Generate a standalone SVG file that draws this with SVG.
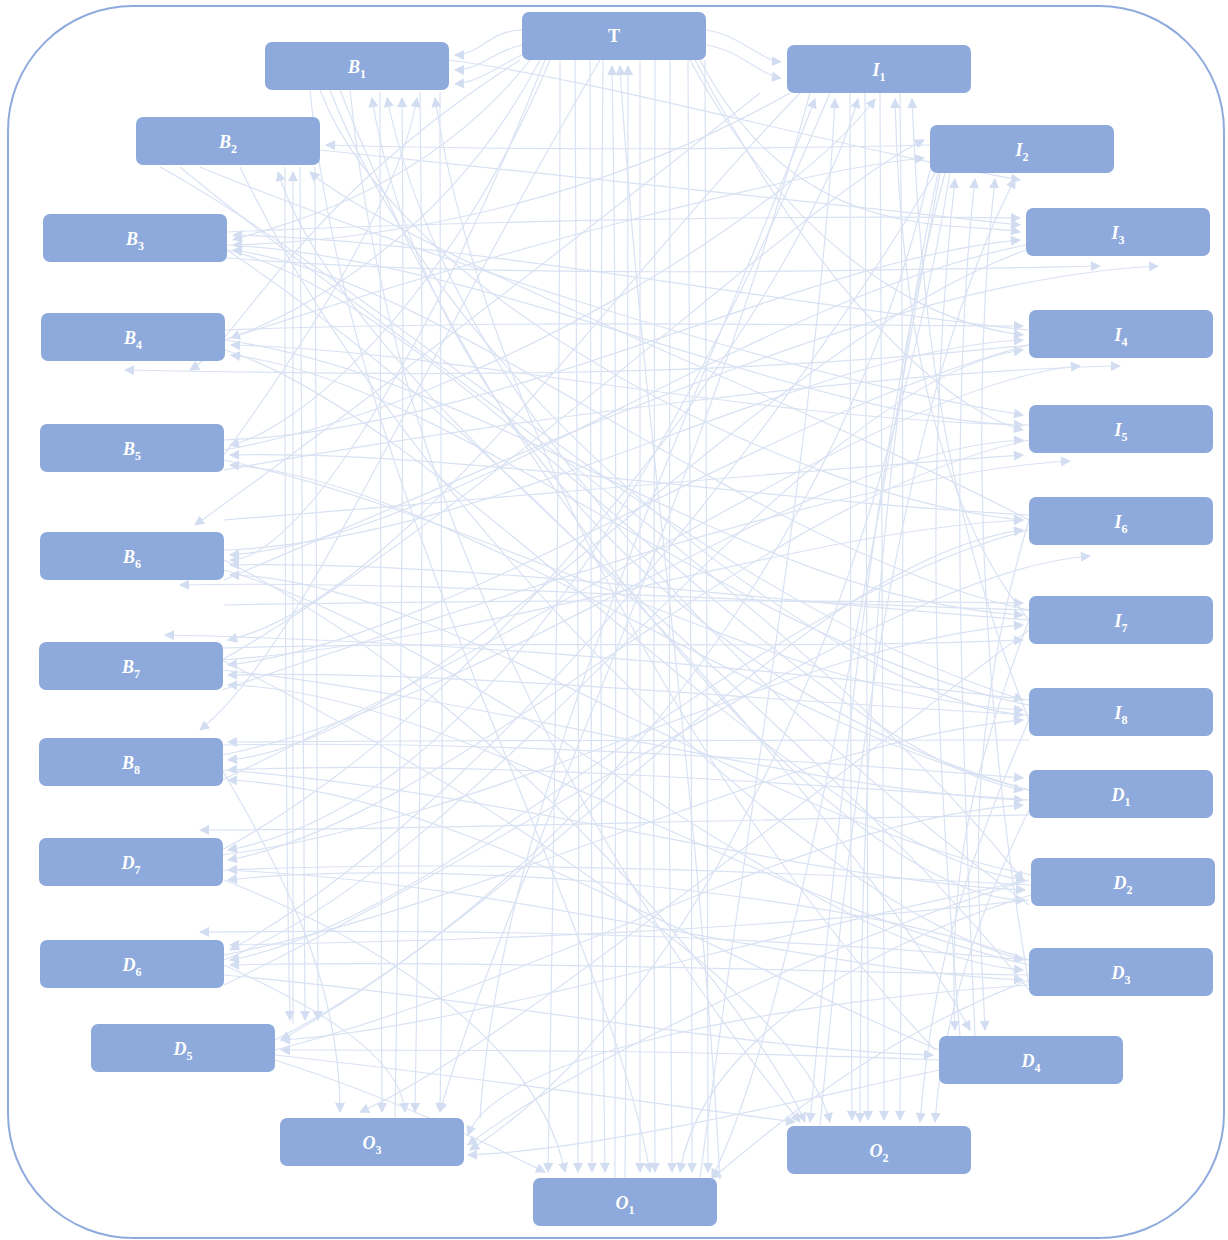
<svg xmlns="http://www.w3.org/2000/svg" width="1228" height="1240" viewBox="0 0 1228 1240">
<style>
.frame{fill:#fff;stroke:#8faadc;stroke-width:2}
.n rect{fill:#8eaadc}
.n text{fill:#fff;font-family:"Liberation Serif","DejaVu Serif",serif;font-size:18px;font-weight:bold;font-style:italic;text-anchor:middle}
.n text tspan.s{font-size:12px;font-style:normal}
.e{fill:none;stroke:#d9e2f3;stroke-width:1.2;marker-end:url(#ah)}
</style>
<defs>
<marker id="ah" viewBox="0 0 10 10" refX="9" refY="5" markerUnits="userSpaceOnUse" markerWidth="11" markerHeight="10" orient="auto">
<path d="M0,0 L10,5 L0,10 z" fill="#d2ddf1"/>
</marker>
</defs>
<rect class="frame" x="8" y="6" width="1216" height="1232" rx="125"/>
<g id="connectors">
<path class="e" d="M560,60 C560,400 555,800 548,1172"/>
<path class="e" d="M575,60 C578,400 580,800 578,1172"/>
<path class="e" d="M590,60 C590,400 592,800 592,1172"/>
<path class="e" d="M603,60 C600,400 600,800 605,1172"/>
<path class="e" d="M640,60 C640,400 640,800 640,1172"/>
<path class="e" d="M655,60 C655,400 652,800 655,1172"/>
<path class="e" d="M670,60 C668,400 668,800 672,1172"/>
<path class="e" d="M688,60 C690,400 692,800 692,1172"/>
<path class="e" d="M705,60 C705,400 708,800 708,1172"/>
<path class="e" d="M615,1178 C615,800 618,400 612,66"/>
<path class="e" d="M625,1178 C628,800 630,400 628,66"/>
<path class="e" d="M720,1180 C700,800 640,400 620,66"/>
<path class="e" d="M530,60 C420,200 260,230 233,240"/>
<path class="e" d="M540,60 C440,250 280,320 231,338"/>
<path class="e" d="M550,60 C450,300 300,430 230,445"/>
<path class="e" d="M700,60 C800,250 960,220 1020,232"/>
<path class="e" d="M690,60 C820,300 980,330 1023,335"/>
<path class="e" d="M695,60 C850,350 980,420 1023,430"/>
<path class="e" d="M545,60 C430,350 300,560 230,560"/>
<path class="e" d="M706,30 C740,35 760,60 781,62"/>
<path class="e" d="M706,45 C740,50 760,75 781,78"/>
<path class="e" d="M522,30 C490,30 480,55 455,55"/>
<path class="e" d="M522,45 C495,50 480,70 455,70"/>
<path class="e" d="M522,55 C500,65 480,82 455,84"/>
<path class="e" d="M227,245 C500,260 800,420 1023,425"/>
<path class="e" d="M227,250 C450,300 800,750 1023,790"/>
<path class="e" d="M225,340 C500,380 750,600 1023,615"/>
<path class="e" d="M225,350 C450,420 800,850 1025,880"/>
<path class="e" d="M224,440 C500,430 800,260 1020,240"/>
<path class="e" d="M224,460 C500,520 800,700 1023,710"/>
<path class="e" d="M224,550 C500,540 800,350 1023,340"/>
<path class="e" d="M224,570 C500,650 800,950 1023,970"/>
<path class="e" d="M222,660 C500,640 800,530 1023,520"/>
<path class="e" d="M222,670 C500,700 800,790 1023,800"/>
<path class="e" d="M222,755 C500,700 800,450 1023,440"/>
<path class="e" d="M222,770 C500,790 800,880 1025,890"/>
<path class="e" d="M222,855 C500,820 800,640 1023,625"/>
<path class="e" d="M222,870 C500,880 800,970 1023,980"/>
<path class="e" d="M224,955 C500,900 800,740 1023,720"/>
<path class="e" d="M224,960 C500,850 800,380 1023,350"/>
<path class="e" d="M275,1040 C550,900 800,560 1023,530"/>
<path class="e" d="M275,1050 C550,980 800,820 1023,805"/>
<path class="e" d="M224,605 C500,600 800,600 1023,603"/>
<path class="e" d="M222,648 C500,640 800,650 1023,640"/>
<path class="e" d="M222,745 C500,740 800,760 1023,778"/>
<path class="e" d="M227,232 C500,220 800,215 1020,218"/>
<path class="e" d="M225,330 C500,320 800,325 1023,326"/>
<path class="e" d="M224,520 C480,500 800,470 1023,455"/>
<path class="e" d="M1026,245 C750,300 450,540 230,555"/>
<path class="e" d="M1026,250 C750,350 450,740 228,760"/>
<path class="e" d="M1029,330 C750,300 450,240 233,235"/>
<path class="e" d="M1029,345 C750,420 450,640 228,665"/>
<path class="e" d="M1029,425 C750,420 450,350 231,345"/>
<path class="e" d="M1029,440 C750,500 450,820 228,860"/>
<path class="e" d="M1029,515 C750,500 450,450 230,455"/>
<path class="e" d="M1029,530 C750,600 450,920 230,960"/>
<path class="e" d="M1029,610 C750,550 450,280 233,250"/>
<path class="e" d="M1029,620 C750,600 450,560 230,565"/>
<path class="e" d="M1029,705 C750,650 450,380 231,355"/>
<path class="e" d="M1029,715 C750,700 450,670 228,675"/>
<path class="e" d="M1029,790 C750,720 450,480 230,465"/>
<path class="e" d="M1029,800 C750,780 450,760 228,770"/>
<path class="e" d="M1031,875 C750,820 450,580 230,575"/>
<path class="e" d="M1031,885 C750,870 450,860 228,870"/>
<path class="e" d="M1029,965 C750,900 450,690 228,685"/>
<path class="e" d="M1029,975 C750,970 450,960 230,965"/>
<path class="e" d="M939,1050 C700,950 450,790 228,780"/>
<path class="e" d="M939,1060 C700,1050 450,1050 281,1050"/>
<path class="e" d="M1029,740 C800,740 500,740 228,742"/>
<path class="e" d="M1029,900 C760,930 500,940 230,945"/>
<path class="e" d="M1029,960 C800,880 400,860 228,880"/>
<path class="e" d="M320,90 C400,300 800,500 1023,520"/>
<path class="e" d="M330,90 C450,400 850,700 1023,715"/>
<path class="e" d="M340,90 C500,500 850,900 1025,900"/>
<path class="e" d="M310,90 C350,500 600,900 650,1172"/>
<path class="e" d="M350,90 C400,600 700,1000 800,1122"/>
<path class="e" d="M380,92 C380,500 380,800 382,1112"/>
<path class="e" d="M420,92 C425,500 420,800 415,1112"/>
<path class="e" d="M440,92 C440,500 445,800 440,1112"/>
<path class="e" d="M449,60 C600,80 850,150 1020,180"/>
<path class="e" d="M1029,790 C700,700 420,400 372,98"/>
<path class="e" d="M1029,905 C750,700 450,400 387,98"/>
<path class="e" d="M395,1118 C400,800 405,400 402,98"/>
<path class="e" d="M224,455 C300,350 400,200 417,98"/>
<path class="e" d="M935,1050 C700,800 480,400 435,98"/>
<path class="e" d="M285,167 C285,500 285,800 290,1020"/>
<path class="e" d="M300,167 C302,500 305,800 305,1020"/>
<path class="e" d="M315,167 C318,500 315,800 318,1020"/>
<path class="e" d="M320,150 C600,180 800,200 1020,225"/>
<path class="e" d="M200,167 C400,250 800,380 1023,415"/>
<path class="e" d="M240,167 C400,500 800,900 1023,960"/>
<path class="e" d="M160,167 C400,300 700,600 1023,700"/>
<path class="e" d="M180,167 C400,350 800,600 1023,880"/>
<path class="e" d="M1029,990 C800,700 350,400 278,172"/>
<path class="e" d="M293,1024 C295,700 293,400 293,172"/>
<path class="e" d="M1029,520 C800,400 400,250 310,172"/>
<path class="e" d="M930,145 C700,150 500,150 326,145"/>
<path class="e" d="M850,93 C848,500 850,800 852,1120"/>
<path class="e" d="M865,93 C865,500 868,800 868,1120"/>
<path class="e" d="M880,93 C882,500 884,800 884,1120"/>
<path class="e" d="M900,93 C905,500 902,800 900,1120"/>
<path class="e" d="M790,93 C600,200 400,240 233,245"/>
<path class="e" d="M830,93 C700,400 500,800 228,850"/>
<path class="e" d="M810,93 C700,500 500,900 440,1112"/>
<path class="e" d="M800,93 C600,300 400,600 228,640"/>
<path class="e" d="M480,1118 C500,800 700,400 815,99"/>
<path class="e" d="M700,1178 C750,800 820,400 835,99"/>
<path class="e" d="M222,850 C500,700 800,300 858,99"/>
<path class="e" d="M224,450 C500,400 800,200 875,99"/>
<path class="e" d="M1029,620 C930,500 900,300 895,99"/>
<path class="e" d="M1029,720 C940,500 920,300 912,99"/>
<path class="e" d="M940,173 C880,500 800,1000 712,1178"/>
<path class="e" d="M950,173 C880,600 700,1000 470,1150"/>
<path class="e" d="M935,173 C800,400 500,800 230,950"/>
<path class="e" d="M945,173 C870,450 830,900 810,1122"/>
<path class="e" d="M930,170 C880,400 700,800 281,1040"/>
<path class="e" d="M938,173 C890,400 860,700 860,1122"/>
<path class="e" d="M960,1036 C940,800 920,500 955,179"/>
<path class="e" d="M975,1036 C960,700 950,400 975,179"/>
<path class="e" d="M1029,985 C980,700 970,400 995,179"/>
<path class="e" d="M820,1126 C850,800 900,400 1015,179"/>
<path class="e" d="M222,660 C500,500 800,200 924,140"/>
<path class="e" d="M224,340 C500,250 800,170 924,158"/>
<path class="e" d="M227,258 C500,280 900,270 1100,266"/>
<path class="e" d="M224,580 C600,420 900,280 1158,266"/>
<path class="e" d="M224,470 C500,420 900,370 1120,366"/>
<path class="e" d="M222,780 C600,600 900,380 1080,366"/>
<path class="e" d="M222,690 C600,560 900,470 1070,461"/>
<path class="e" d="M224,985 C600,800 900,570 1090,556"/>
<path class="e" d="M1029,985 C800,1000 500,1050 468,1135"/>
<path class="e" d="M939,1070 C800,1100 600,1150 468,1155"/>
<path class="e" d="M1029,880 C800,950 550,1080 468,1145"/>
<path class="e" d="M222,770 C300,900 340,1000 340,1112"/>
<path class="e" d="M224,965 C300,1000 400,1050 405,1112"/>
<path class="e" d="M1029,630 C800,800 500,1050 360,1112"/>
<path class="e" d="M224,560 C500,700 750,1000 805,1122"/>
<path class="e" d="M222,660 C500,800 800,1000 830,1122"/>
<path class="e" d="M1029,720 C950,900 930,1000 920,1122"/>
<path class="e" d="M1029,810 C960,950 940,1050 935,1122"/>
<path class="e" d="M275,1055 C500,1080 700,1110 795,1122"/>
<path class="e" d="M275,1060 C400,1100 500,1150 545,1172"/>
<path class="e" d="M1029,980 C850,1050 750,1150 712,1178"/>
<path class="e" d="M224,880 C400,950 540,1050 565,1172"/>
<path class="e" d="M1031,895 C850,950 700,1050 680,1172"/>
<path class="e" d="M1029,880 C700,950 450,1030 281,1040"/>
<path class="e" d="M224,975 C500,1000 750,1050 933,1055"/>
<path class="e" d="M1029,620 C960,800 950,900 955,1030"/>
<path class="e" d="M1029,520 C960,750 980,900 985,1030"/>
<path class="e" d="M227,250 C600,500 900,900 970,1030"/>
<path class="e" d="M1029,345 C700,380 400,375 125,370"/>
<path class="e" d="M520,60 C300,200 240,340 190,370"/>
<path class="e" d="M1029,610 C700,600 400,580 180,585"/>
<path class="e" d="M1029,700 C700,660 400,640 165,635"/>
<path class="e" d="M600,60 C400,400 300,650 200,730"/>
<path class="e" d="M1029,815 C700,820 400,830 200,830"/>
<path class="e" d="M1029,960 C700,930 400,930 200,932"/>
<path class="e" d="M760,93 C500,300 300,450 195,525"/>
</g>
<g id="node-T" class="n"><rect x="522" y="12" width="184" height="48" rx="7"/><text x="614" y="42" style="font-style:normal">T</text></g>
<g id="node-B1" class="n"><rect x="265" y="42" width="184" height="48" rx="7"/><text x="357" y="73">B<tspan class="s" dy="5">1</tspan></text></g>
<g id="node-I1" class="n"><rect x="787" y="45" width="184" height="48" rx="7"/><text x="879" y="76">I<tspan class="s" dy="5">1</tspan></text></g>
<g id="node-B2" class="n"><rect x="136" y="117" width="184" height="48" rx="7"/><text x="228" y="148">B<tspan class="s" dy="5">2</tspan></text></g>
<g id="node-I2" class="n"><rect x="930" y="125" width="184" height="48" rx="7"/><text x="1022" y="156">I<tspan class="s" dy="5">2</tspan></text></g>
<g id="node-B3" class="n"><rect x="43" y="214" width="184" height="48" rx="7"/><text x="135" y="245">B<tspan class="s" dy="5">3</tspan></text></g>
<g id="node-I3" class="n"><rect x="1026" y="208" width="184" height="48" rx="7"/><text x="1118" y="239">I<tspan class="s" dy="5">3</tspan></text></g>
<g id="node-B4" class="n"><rect x="41" y="313" width="184" height="48" rx="7"/><text x="133" y="344">B<tspan class="s" dy="5">4</tspan></text></g>
<g id="node-I4" class="n"><rect x="1029" y="310" width="184" height="48" rx="7"/><text x="1121" y="341">I<tspan class="s" dy="5">4</tspan></text></g>
<g id="node-B5" class="n"><rect x="40" y="424" width="184" height="48" rx="7"/><text x="132" y="455">B<tspan class="s" dy="5">5</tspan></text></g>
<g id="node-I5" class="n"><rect x="1029" y="405" width="184" height="48" rx="7"/><text x="1121" y="436">I<tspan class="s" dy="5">5</tspan></text></g>
<g id="node-B6" class="n"><rect x="40" y="532" width="184" height="48" rx="7"/><text x="132" y="563">B<tspan class="s" dy="5">6</tspan></text></g>
<g id="node-I6" class="n"><rect x="1029" y="497" width="184" height="48" rx="7"/><text x="1121" y="528">I<tspan class="s" dy="5">6</tspan></text></g>
<g id="node-B7" class="n"><rect x="39" y="642" width="184" height="48" rx="7"/><text x="131" y="673">B<tspan class="s" dy="5">7</tspan></text></g>
<g id="node-I7" class="n"><rect x="1029" y="596" width="184" height="48" rx="7"/><text x="1121" y="627">I<tspan class="s" dy="5">7</tspan></text></g>
<g id="node-B8" class="n"><rect x="39" y="738" width="184" height="48" rx="7"/><text x="131" y="769">B<tspan class="s" dy="5">8</tspan></text></g>
<g id="node-I8" class="n"><rect x="1029" y="688" width="184" height="48" rx="7"/><text x="1121" y="719">I<tspan class="s" dy="5">8</tspan></text></g>
<g id="node-D1" class="n"><rect x="1029" y="770" width="184" height="48" rx="7"/><text x="1121" y="801">D<tspan class="s" dy="5">1</tspan></text></g>
<g id="node-D7" class="n"><rect x="39" y="838" width="184" height="48" rx="7"/><text x="131" y="869">D<tspan class="s" dy="5">7</tspan></text></g>
<g id="node-D2" class="n"><rect x="1031" y="858" width="184" height="48" rx="7"/><text x="1123" y="889">D<tspan class="s" dy="5">2</tspan></text></g>
<g id="node-D6" class="n"><rect x="40" y="940" width="184" height="48" rx="7"/><text x="132" y="971">D<tspan class="s" dy="5">6</tspan></text></g>
<g id="node-D3" class="n"><rect x="1029" y="948" width="184" height="48" rx="7"/><text x="1121" y="979">D<tspan class="s" dy="5">3</tspan></text></g>
<g id="node-D5" class="n"><rect x="91" y="1024" width="184" height="48" rx="7"/><text x="183" y="1055">D<tspan class="s" dy="5">5</tspan></text></g>
<g id="node-D4" class="n"><rect x="939" y="1036" width="184" height="48" rx="7"/><text x="1031" y="1067">D<tspan class="s" dy="5">4</tspan></text></g>
<g id="node-O3" class="n"><rect x="280" y="1118" width="184" height="48" rx="7"/><text x="372" y="1149">O<tspan class="s" dy="5">3</tspan></text></g>
<g id="node-O2" class="n"><rect x="787" y="1126" width="184" height="48" rx="7"/><text x="879" y="1157">O<tspan class="s" dy="5">2</tspan></text></g>
<g id="node-O1" class="n"><rect x="533" y="1178" width="184" height="48" rx="7"/><text x="625" y="1209">O<tspan class="s" dy="5">1</tspan></text></g>
</svg>
